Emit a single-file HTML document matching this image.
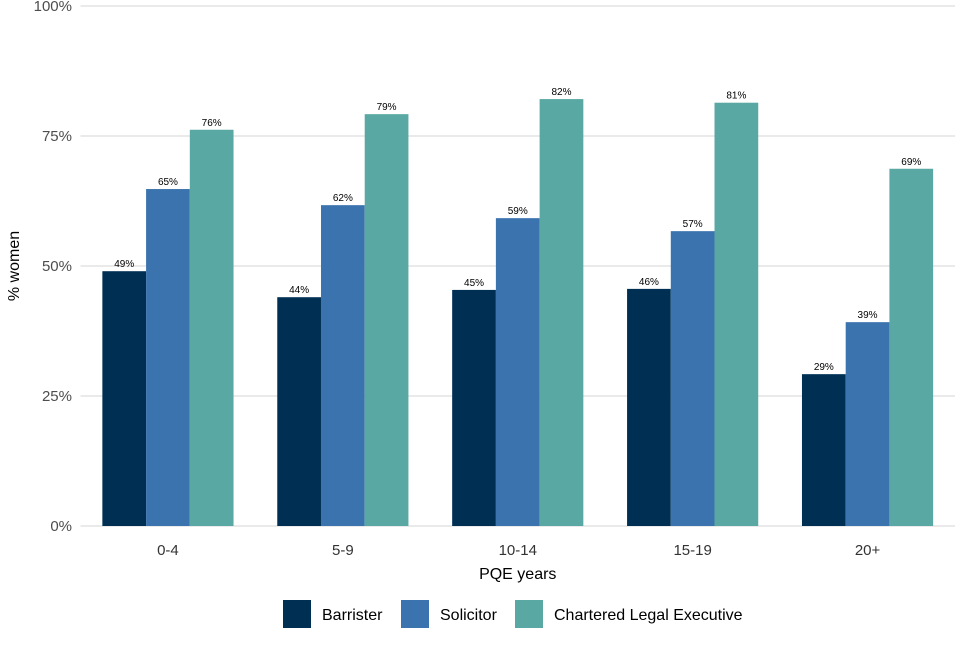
<!DOCTYPE html>
<html><head><meta charset="utf-8"><style>
body{margin:0;background:#fff;font-family:"Liberation Sans",sans-serif;}
</style></head><body>
<svg id="chart" width="960" height="640" xmlns="http://www.w3.org/2000/svg" font-family="Liberation Sans, sans-serif"></svg>
<script>
const categories=["0-4","5-9","10-14","15-19","20+"];
const seriesNames=["Barrister","Solicitor","Chartered Legal Executive"];
const barrister=[49.0,44.0,45.4,45.6,29.2];
const solicitor=[64.8,61.7,59.2,56.7,39.2];
const cilex=[76.2,79.2,82.1,81.4,68.7];
const yTicks=[0,25,50,75,100];
const colors=["#002f54","#3a73ad","#5aa8a3"];
const series=[barrister,solicitor,cilex];
const NS="http://www.w3.org/2000/svg";
const svg=document.getElementById("chart");
const L=80.5,R=955,T=6,B=526;
const y=v=>B-(B-T)*v/100;
const band=(R-L)/categories.length;
const bw=band*0.75/3;
const x=i=>L+band*i+band/2;
function mk(t,a,txt){const e=document.createElementNS(NS,t);for(const k in a)e.setAttribute(k,a[k]);if(txt!==undefined)e.textContent=txt;svg.appendChild(e);return e;}
yTicks.forEach(t=>{
 const g=mk("line",{x1:L,x2:R,y1:y(t),y2:y(t),stroke:"#d6d6d6","stroke-width":1});
 
 
 const l=mk("text",{x:72,y:y(t)+5,"text-anchor":"end","font-size":15,fill:"#4d4d4d"},t+"%");
 
 
});
categories.forEach((c,i)=>{
 series.forEach((s,j)=>{
  const bx=x(i)-1.5*bw+j*bw;
  const r=mk("rect",{x:bx,y:y(s[i]),width:bw,height:B-y(s[i]),fill:colors[j]});
  
  
  const lb=mk("text",{x:bx+bw/2,y:y(s[i])-4,"text-anchor":"middle","font-size":10,fill:"#000"},Math.round(s[i])+"%");
  
  
 });
 const tl=mk("text",{x:x(i),y:555,"text-anchor":"middle","font-size":15,fill:"#333"},c);
 
 
});
const xt=mk("text",{x:(L+R)/2,y:579,"text-anchor":"middle","font-size":16,fill:"#000"},"PQE years");


const yt=mk("text",{x:0,y:0,transform:"translate(19,266) rotate(-90)","text-anchor":"middle","font-size":16,fill:"#000"},"% women");


const lx=[283,401,515];
seriesNames.forEach((n,j)=>{
 const sq=mk("rect",{x:lx[j],y:600,width:28,height:28,fill:colors[j]});
 
 
 const t=mk("text",{x:lx[j]+39,y:620,"font-size":16,fill:"#000"},n);
 
 
});
</script>
</body></html>
